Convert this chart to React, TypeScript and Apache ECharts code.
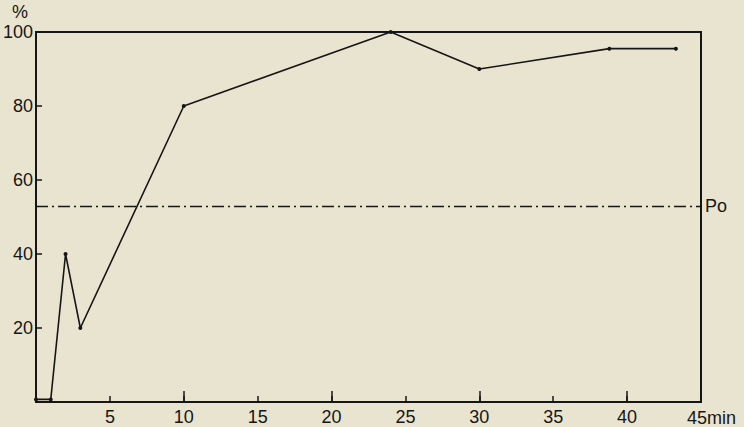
import React, { useEffect, useRef } from "react";
import * as echarts from "echarts";

const timesMin = [0, 1, 2, 3, 10, 24, 30, 38.8, 43.3];
const percentValues = [0.7, 0.7, 40, 20, 80, 100, 90, 95.5, 95.5];
const poLevel = 53;
const poLabel = "Po";
const xTickLabels = ["5", "10", "15", "20", "25", "30", "35", "40"];
const xEndLabel = "45min";
const yTickLabels = ["20", "40", "60", "80", "100"];

const INK = "#161616";
const FONT = "Liberation Sans";

export default function App() {
  const ref = useRef<HTMLDivElement>(null);
  useEffect(() => {
    if (!ref.current) return;
    const chart = echarts.init(ref.current, undefined, { renderer: "svg" });
    const data = timesMin.map((t, i) => [t, percentValues[i]]);
    chart.setOption({
      animation: false,
      backgroundColor: "transparent",
      grid: {
        left: 36,
        right: 43,
        top: 32,
        bottom: 25,
        outerBoundsMode: "none",
        containLabel: false,
        show: true,
        borderColor: INK,
        borderWidth: 2,
        backgroundColor: "transparent",
      },
      xAxis: [
        {
          type: "value",
          min: 0,
          max: 45,
          interval: 5,
          name: xEndLabel,
          nameLocation: "end",
          nameGap: -14,
          nameTextStyle: {
            color: INK,
            fontFamily: FONT,
            fontSize: 18,
            align: "left",
            verticalAlign: "top",
            padding: [7, 0, 0, 0],
          },
          splitLine: { show: false },
          axisLine: { show: true, lineStyle: { color: INK, width: 2 } },
          axisTick: { show: true, inside: true, length: 6, lineStyle: { color: INK, width: 1.5 } },
          axisLabel: {
            color: INK,
            fontFamily: FONT,
            fontSize: 18,
            margin: 6,
            formatter: (v: number) => (xTickLabels.includes(String(v)) ? String(v) : ""),
          },
        },
        {
          type: "value",
          min: 0,
          max: 45,
          interval: 10,
          position: "bottom",
          splitLine: { show: false },
          axisLine: { show: false },
          axisTick: { show: true, inside: true, length: 11, lineStyle: { color: INK, width: 1.5 } },
          axisLabel: { show: false },
        },
      ],
      yAxis: {
        type: "value",
        min: 0,
        max: 100,
        interval: 20,
        splitLine: { show: false },
        axisLine: { show: true, lineStyle: { color: INK, width: 2 } },
        axisTick: { show: true, inside: true, length: 6, lineStyle: { color: INK, width: 1.5 } },
        axisLabel: {
          color: INK,
          fontFamily: FONT,
          fontSize: 18,
          margin: 3,
          formatter: (v: number) => (yTickLabels.includes(String(v)) ? String(v) : ""),
        },
      },
      graphic: [
        {
          type: "text",
          left: 12,
          top: 3,
          style: { text: "%", fill: INK, font: `18px ${FONT}` },
        },
      ],
      series: [
        {
          type: "line",
          data,
          xAxisIndex: 0,
          symbol: "circle",
          symbolSize: 4,
          itemStyle: { color: INK },
          lineStyle: { color: INK, width: 1.6 },
          markLine: {
            silent: true,
            symbol: ["none", "none"],
            lineStyle: { color: INK, width: 1.4, type: [12, 4, 2, 4] },
            label: {
              show: true,
              position: "end",
              distance: 4,
              formatter: poLabel,
              color: INK,
              fontFamily: FONT,
              fontSize: 18,
            },
            data: [{ yAxis: poLevel }],
          },
        },
      ],
    });
    return () => chart.dispose();
  }, []);
  return (
    <div
      style={{
        position: "absolute",
        left: 0,
        top: 0,
        width: 744,
        height: 427,
        background: "#e9e4d0",
      }}
    >
      <div ref={ref} style={{ width: 744, height: 427 }} />
    </div>
  );
}
